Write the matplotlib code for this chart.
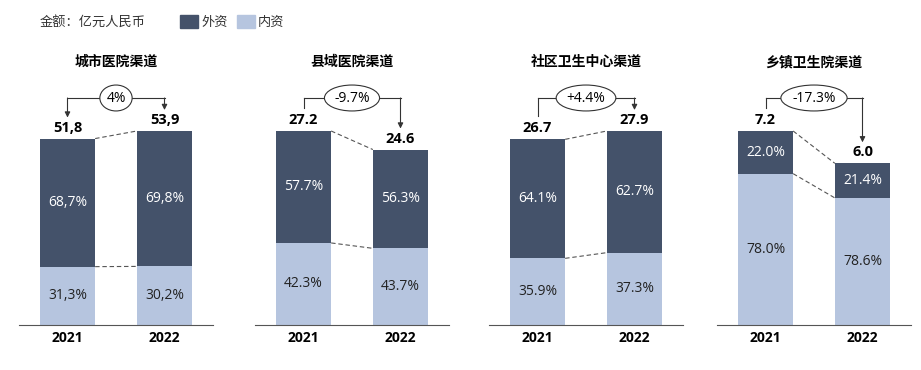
import numpy as np
import matplotlib.pyplot as plt
from matplotlib.patches import Rectangle

plt.rcParams['font.family'] = ['Open Sans', 'Noto Sans CJK SC', 'DejaVu Sans']

# data
channels = ['城市医院渠道', '县域医院渠道', '社区卫生中心渠道', '乡镇卫生院渠道']
years = ['2021', '2022']
totals = [[51.8, 53.9], [27.2, 24.6], [26.7, 27.9], [7.2, 6.0]]
foreign_pct = [[68.7, 69.8], [57.7, 56.3], [64.1, 62.7], [22.0, 21.4]]
domestic_pct = [[31.3, 30.2], [42.3, 43.7], [35.9, 37.3], [78.0, 78.6]]
growth_labels = ['4%', '-9.7%', '+4.4%', '-17.3%']
decimal_sep = [',', '.', '.', '.']
left_arrow = [True, False, False, False]

dark = '#44526a'
light = '#b6c5df'
txt = '#222222'

W, H = 921, 370
fig = plt.figure(figsize=(W / 100, H / 100), dpi=100)

panel_left = [19, 255, 489, 717]
panel_w = 194
base_px = 325
top_px = 40
bar_px = 194          # pixel height of the tallest bar in each panel
bw = 0.57

def fmt(v, sep):
    return f'{v:.1f}'.replace('.', sep)

for i, name in enumerate(channels):
    ax = fig.add_axes([panel_left[i] / W, (H - base_px) / H,
                       panel_w / W, (base_px - top_px) / H])
    tot = np.array(totals[i])
    mx = tot.max()
    ymax = mx * (base_px - top_px) / bar_px
    px = ymax / (base_px - top_px)   # data units per pixel
    x = np.arange(2)
    dom = tot * np.array(domestic_pct[i]) / 100
    frn = tot * np.array(foreign_pct[i]) / 100
    ax.bar(x, dom, bw, color=light, zorder=2)
    ax.bar(x, frn, bw, bottom=dom, color=dark, zorder=2)

    sep = decimal_sep[i]
    for j in range(2):
        ax.text(x[j], dom[j] / 2, fmt(domestic_pct[i][j], sep) + '%',
                ha='center', va='center', color=txt, fontsize=10)
        ax.text(x[j], dom[j] + frn[j] / 2, fmt(foreign_pct[i][j], sep) + '%',
                ha='center', va='center', color='white', fontsize=10)
        ax.text(x[j], tot[j] + 4 * px, fmt(tot[j], sep), ha='center', va='bottom',
                color='black', fontsize=10.5, fontweight='bold')

    # dashed connectors
    for y0, y1 in [(tot[0], tot[1]), (dom[0], dom[1])]:
        ax.plot([x[0] + bw / 2, x[1] - bw / 2], [y0, y1], ls=(0, (4, 2.5)),
                color='#555555', lw=0.8, zorder=1)

    # growth bracket
    yb = mx + 33 * px
    ends = tot + 21 * px
    ax.plot([x[0], x[1]], [yb, yb], color='#333333', lw=0.8, zorder=3)
    for j in range(2):
        if j == 1 or left_arrow[i]:
            ax.annotate('', xy=(x[j], ends[j]), xytext=(x[j], yb),
                        arrowprops=dict(arrowstyle='-|>', mutation_scale=8, lw=0.8,
                                        color='#333333', shrinkA=0, shrinkB=0))
        else:
            ax.plot([x[j], x[j]], [yb, ends[j] + 2 * px], color='#333333', lw=0.8)
    ax.text(0.5, yb, growth_labels[i], ha='center', va='center', fontsize=10,
            color='black', zorder=5,
            bbox=dict(boxstyle='ellipse,pad=0.12', fc='white', ec='#333333', lw=0.8))

    ax.set_xlim(-0.5, 1.5)
    ax.set_ylim(0, ymax)
    ax.set_xticks(x)
    ax.set_xticklabels(years, fontsize=10, fontweight='bold')
    ax.tick_params(axis='x', length=0, pad=4)
    ax.set_yticks([])
    for s in ['top', 'right', 'left']:
        ax.spines[s].set_visible(False)
    ax.spines['bottom'].set_color('#555555')
    ax.spines['bottom'].set_linewidth(0.8)

    fig.text((panel_left[i] + panel_w / 2) / W, 1 - 62 / H, name, ha='center',
             va='center', fontsize=10, fontweight='bold')

# legend header
fig.text(40 / W, 1 - 22 / H, '金额：亿元人民币', ha='left', va='center', fontsize=9.5,
         color='#333333')
for xl, col, lab in [(180, dark, '外资'), (237, light, '内资')]:
    fig.patches.append(Rectangle((xl / W, 1 - 28 / H), 18 / W, 13 / H,
                                 transform=fig.transFigure, color=col))
    fig.text((xl + 21) / W, 1 - 22 / H, lab, ha='left', va='center', fontsize=9.5,
             color='#333333')

fig.savefig('out.png', dpi=100)
